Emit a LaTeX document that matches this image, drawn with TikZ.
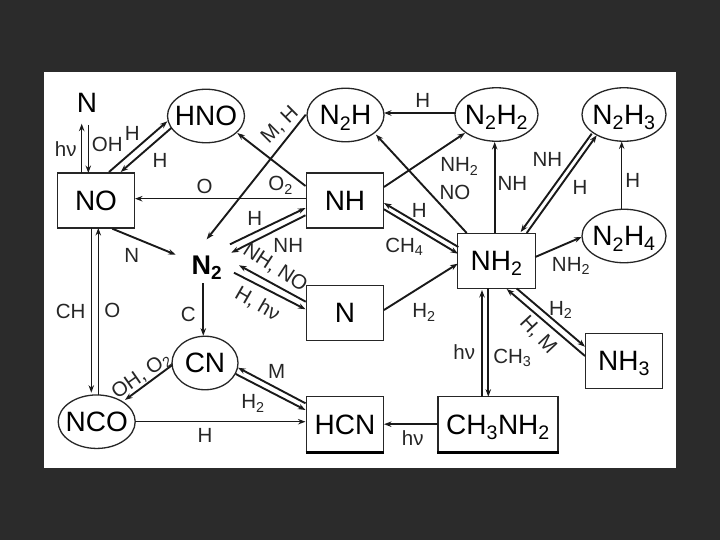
\documentclass[tikz,border=0pt]{standalone}
\usepackage{fontspec}
\setmainfont{Liberation Sans}
\usetikzlibrary{shapes.geometric,arrows.meta}
\newcounter{labc}
\newcommand{\conn}[5][]{\draw[link,#1] ([shift={(#3)}]#2.center) -- ([shift={(#5)}]#4.center);}
\newcommand{\lab}[3][]{\stepcounter{labc}\node[edgelab,#1] (lab\arabic{labc}) at (#2) {#3};}
\tikzset{
  link/.style={draw=black!90,line width=1.5pt,-{Stealth[length=7.5pt,width=5.5pt]}},
  thk/.style={line width=1.9pt},
  edgelab/.style={inner sep=0pt,text=black!85,text height=14.5pt,text depth=0pt,font=\fontsize{20.5}{22}\selectfont},
  species/.style={inner sep=0pt,text=black,text height=19.8pt,text depth=0pt,font=\fontsize{28}{30}\selectfont},
  boxn/.style={species,draw=black!85,line width=1.3pt,rectangle,minimum width=77.5pt,minimum height=55pt},
  ell/.style={species,inner sep=-11pt,draw=black!85,line width=1.3pt,ellipse,minimum width=#1,minimum height=53.5pt},
  ell/.default=77pt
}
\begin{document}
\begin{tikzpicture}[x=1pt,y=-1pt]
\useasboundingbox (0,0) rectangle (720,540);
\fill[fill=black!83] (0,0) rectangle (720,540);
\fill[white] (44,72) rectangle (676,468);
% species
\node[species] (Nt) at (87,103) {N};
\node[species,font=\bfseries\fontsize{27}{30}\selectfont] (Ntwo) at (207,265) {N\textsubscript{2}};
\node[boxn] (NO) at (96,200.5) {NO};
\node[boxn] (NH) at (345,200.5) {NH};
\node[boxn] (Nb) at (345,313) {N};
\node[boxn] (HCN) at (345,424.2) {HCN};
\node[boxn,minimum width=120pt] (MA) at (498,424.2) {CH\textsubscript{3}NH\textsubscript{2}};
\node[boxn] (NHthree) at (624,360.7) {NH\textsubscript{3}};
\node[boxn] (NHtwo) at (496.5,260.7) {NH\textsubscript{2}};
\node[ell] (HNO) at (206,116) {HNO};
\node[ell] (NNH) at (345.5,115) {N\textsubscript{2}H};
\node[ell=83pt] (NNHtwo) at (496.5,114.5) {N\textsubscript{2}H\textsubscript{2}};
\node[ell=84pt] (NNHthree) at (624,114.5) {N\textsubscript{2}H\textsubscript{3}};
\node[ell=84pt] (NNHfour) at (624,236) {N\textsubscript{2}H\textsubscript{4}};
\node[ell=66pt] (CN) at (205,363) {CN};
\node[ell] (NCO) at (96.7,421.7) {NCO};
% heavier lower edges of two boxes
\coordinate (hcnA) at (HCN.south west); \coordinate (hcnB) at (HCN.south east);
\draw[line width=3pt,black] (hcnA) -- (hcnB);
\coordinate (maA) at (MA.south west); \coordinate (maB) at (MA.south east);
\draw[line width=3pt,black] (maA) -- (maB);
% connectors
\conn{Nt}{1.3,22}{NO}{-7.7,-27.5}
\conn{NO}{-14.3,-27.5}{Nt}{-5.3,20.7}
\conn[thk]{NO}{13,-28.5}{HNO}{-38.7,5.3}
\conn[thk]{HNO}{-34.7,12}{NO}{24.7,-28.5}
\conn[thk]{NH}{-39.5,-14.5}{HNO}{31.3,17}
\conn[thk]{NNH}{-39.8,-0.3}{Ntwo}{-0.3,-25.7}
\conn{NH}{-39.5,-1.8}{NO}{39,-1.8}
\conn[thk]{NO}{16.3,28.2}{Ntwo}{-31.3,-10.3}
\conn[thk]{Ntwo}{23,-20.7}{NH}{-39.5,7.5}
\conn[thk]{NH}{-39.5,14.8}{Ntwo}{24.3,-12.3}
\conn[thk]{Nb}{-39.3,-11.3}{Ntwo}{32,0.3}
\conn[thk]{Ntwo}{27,7.7}{Nb}{-39.5,-3.7}
\conn[line width=2.2pt]{Ntwo}{-3.7,18.3}{CN}{-1.7,-27.3}
\conn[thk]{CN}{-32.7,2}{NCO}{28.3,-21.7}
\conn{NO}{-4.7,27.5}{NCO}{-5.4,-29}
\conn{NCO}{1.6,-26.7}{NO}{2.3,27.5}
\conn{NCO}{38.3,0}{HCN}{-39.5,-2.5}
\conn[thk]{HCN}{-39.5,-20.9}{CN}{33,4.7}
\conn[thk]{CN}{30.7,11}{HCN}{-39.5,-14.2}
\conn[line width=2.2pt]{MA}{-60,0}{HCN}{39,0}
\conn[thk]{NHtwo}{-38.2,-13.7}{NH}{39,2.5}
\conn[thk]{NH}{39,8.8}{NHtwo}{-38.5,-7}
\conn[thk]{Nb}{39,-3}{NHtwo}{-38.8,3}
\conn[thk]{NH}{39,-13.5}{NNHtwo}{-31.5,18.5}
\conn[thk]{NHtwo}{-29.8,-27.7}{NNH}{30.5,19.7}
\conn{NNHtwo}{-41.5,-1.5}{NNH}{38.5,-2}
\conn[thk]{NHtwo}{-1.8,-27.7}{NNHtwo}{-1.8,27.5}
\conn[thk]{NNHthree}{-32.3,19.2}{NHtwo}{24.2,-28.7}
\conn[thk]{NHtwo}{30.2,-27.7}{NNHthree}{-27.3,20.8}
\conn{NNHfour}{-2.3,-27}{NNHthree}{-2.3,27}
\conn[thk]{NHtwo}{38.8,-3.7}{NNHfour}{-42.3,1}
\conn[thk]{NHthree}{-39,-4.7}{NHtwo}{10.2,28.3}
\conn[thk]{NHtwo}{20.2,27.8}{NHthree}{-39,-14}
\conn[thk]{MA}{-16,-27.5}{NHtwo}{-14.5,29.3}
\conn[thk]{NHtwo}{-8.2,27.6}{MA}{-9.7,-27.5}
% labels
\lab{65.7,149}{hν}
\lab{107.3,144.3}{OH}
\lab{132.3,133}{H}
\lab{160,160}{H}
\lab[rotate=45]{279,123.7}{M, H}
\lab{280.7,183.7}{O\textsubscript{2}}
\lab{204.7,186}{O}
\lab{131.7,255.3}{N}
\lab{254.7,218.7}{H}
\lab{288.3,245.3}{NH}
\lab[rotate=-33]{276,267}{NH, NO}
\lab[rotate=-30]{258,303}{H, hν}
\lab{70.7,311.7}{CH}
\lab{112.3,310.7}{O}
\lab{188.3,314.3}{C}
\lab[rotate=35]{140.5,374.5}{OH, O\textsubscript{2}}
\lab{276.7,371.7}{M}
\lab{253,401.7}{H\textsubscript{2}}
\lab{205,435.7}{H}
\lab{422.7,100.3}{H}
\lab{459.3,164.7}{NH\textsubscript{2}}
\lab{455,192.7}{NO}
\lab{512.3,183}{NH}
\lab{419.3,210.3}{H}
\lab{404.3,245.3}{CH\textsubscript{4}}
\lab{547.3,159.7}{NH}
\lab{580,187}{H}
\lab{632.7,180.3}{H}
\lab{571,264}{NH\textsubscript{2}}
\lab{424,310.7}{H\textsubscript{2}}
\lab{464.3,352.7}{hν}
\lab{512.3,356}{CH\textsubscript{3}}
\lab{560.7,308.3}{H\textsubscript{2}}
\lab[rotate=-47]{539,334}{H, M}
\lab{412.7,438.3}{hν}
\end{tikzpicture}
\end{document}
